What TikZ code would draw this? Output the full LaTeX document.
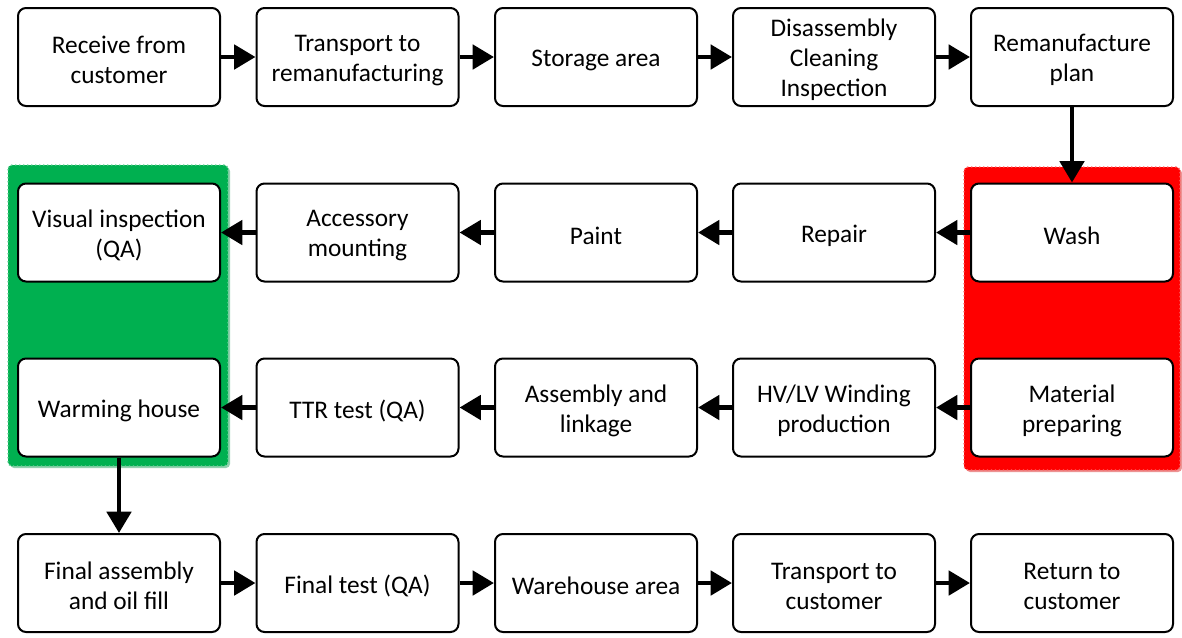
\documentclass[tikz,border=0pt]{standalone}
\usepackage{fontspec}
\setmainfont{Carlito}
\usetikzlibrary{arrows.meta}
\definecolor{ogreen}{RGB}{0,176,80}
\definecolor{ored}{RGB}{255,0,0}
\newcommand{\stepbx}[4]{%
  \node[box] (#1) at (#2,#3) {};
  \node[txt] (#1t) at ([yshift=-2.3pt]#1.center) {#4};}
\begin{document}
\begin{tikzpicture}[x=0.75pt,y=-0.75pt,
  box/.style={draw=black, line width=1.5pt, rounded corners=6pt, fill=white,
    minimum width=151.5pt, minimum height=73.5pt, inner sep=0pt},
  txt/.style={inner sep=0pt, align=center, font=\fontsize{19}{22.5}\selectfont},
  arr/.style={line width=3.6pt, -{Triangle[length=16pt,width=18pt]}},
  zone/.style={rounded corners=3pt, line width=1pt, dotted}]
\useasboundingbox (0,0) rectangle (1182,637);
% zones
\fill[ogreen!70!gray!50, rounded corners=3pt] (10,167) rectangle (230,468);
\draw[zone, fill=ogreen, draw=ogreen!60!white] (8,165) rectangle (228,466);
\fill[ored!70!gray!50, rounded corners=3pt] (966,169) rectangle (1182,472);
\draw[zone, fill=ored, draw=ored!60!white] (964,167) rectangle (1180,470);
% row 1
\stepbx{r1}{119}{57}{Receive from\\customer}
\stepbx{t1}{357.5}{57}{Transport to\\remanufacturing}
\stepbx{s1}{596}{57}{Storage area}
\stepbx{d1}{834}{57}{Disassembly\\Cleaning\\Inspection}
\stepbx{p1}{1072}{57}{Remanufacture\\plan}
% row 2
\stepbx{wash}{1072}{232.5}{Wash}
\stepbx{rep}{834}{232.5}{Repair}
\stepbx{paint}{596}{232.5}{Paint}
\stepbx{acc}{357.5}{232.5}{Accessory\\mounting}
\stepbx{vis}{119}{232.5}{Visual inspection\\(QA)}
% row 3
\stepbx{mat}{1072}{407.5}{Material\\preparing}
\stepbx{hv}{834}{407.5}{HV/LV Winding\\production}
\stepbx{asm}{596}{407.5}{Assembly and\\linkage}
\stepbx{ttr}{357.5}{407.5}{TTR test (QA)}
\stepbx{warm}{119}{407.5}{Warming house}
% row 4
\stepbx{fa}{119}{583}{Final assembly\\and oil fill}
\stepbx{ft}{357.5}{583}{Final test (QA)}
\stepbx{wh}{596}{583}{Warehouse area}
\stepbx{tc}{834}{583}{Transport to\\customer}
\stepbx{ret}{1072}{583}{Return to\\customer}
% arrows
\draw[arr] (r1) -- (t1);
\draw[arr] (t1) -- (s1);
\draw[arr] (s1) -- (d1);
\draw[arr] (d1) -- (p1);
\draw[arr] (p1) -- (wash);
\draw[arr] (wash) -- (rep);
\draw[arr] (rep) -- (paint);
\draw[arr] (paint) -- (acc);
\draw[arr] (acc) -- (vis);
\draw[arr] (mat) -- (hv);
\draw[arr] (hv) -- (asm);
\draw[arr] (asm) -- (ttr);
\draw[arr] (ttr) -- (warm);
\draw[arr] (warm) -- (fa);
\draw[arr] (fa) -- (ft);
\draw[arr] (ft) -- (wh);
\draw[arr] (wh) -- (tc);
\draw[arr] (tc) -- (ret);
\end{tikzpicture}
\end{document}
